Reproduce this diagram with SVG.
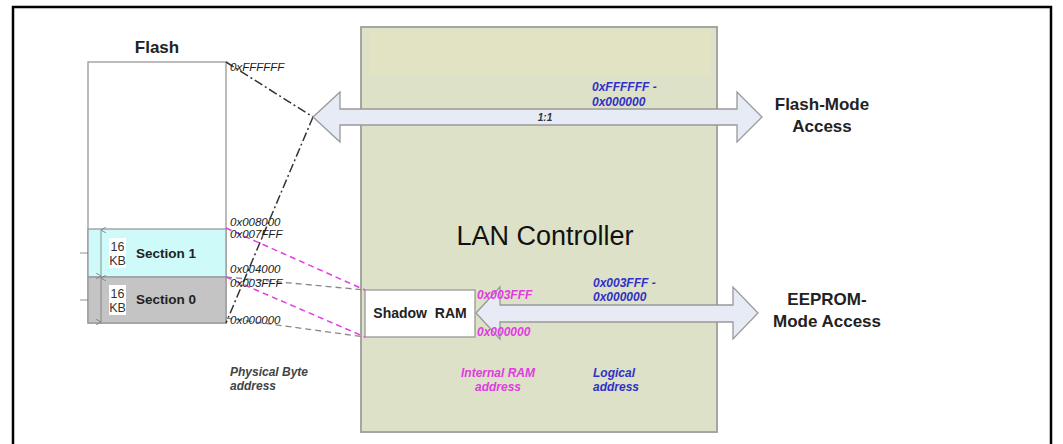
<svg xmlns="http://www.w3.org/2000/svg" width="1063" height="444" viewBox="0 0 1063 444">
<defs>
<style>
.sans{font-family:"Liberation Sans",Arial,sans-serif}
.addr{font-family:"Liberation Sans",Arial,sans-serif;font-size:11.5px;font-style:italic;fill:#1a1a1a}
.blue{font-family:"Liberation Sans",Arial,sans-serif;font-size:12px;font-style:italic;font-weight:bold;fill:#3030c8}
.pink{font-family:"Liberation Sans",Arial,sans-serif;font-size:12px;font-style:italic;font-weight:bold;fill:#e03ce0}
.gray{font-family:"Liberation Sans",Arial,sans-serif;font-size:12px;font-style:italic;font-weight:bold;fill:#444}
.big{font-family:"Liberation Sans",Arial,sans-serif;font-size:17px;font-weight:bold;fill:#222}
.sec{font-family:"Liberation Sans",Arial,sans-serif;font-size:13.5px;font-weight:bold;fill:#222}
.kb{font-family:"Liberation Sans",Arial,sans-serif;font-size:12.5px;fill:#333}
.blk{fill:none;stroke:#333;stroke-width:1.5;stroke-dasharray:9 3 2 3}
.pdash{fill:none;stroke:#e040e0;stroke-width:1.5;stroke-dasharray:6 4}
.gdash{fill:none;stroke:#888;stroke-width:1.3;stroke-dasharray:6 4}
.barrow{fill:#e6ebf5;stroke:#999;stroke-width:1.3}
</style>
<marker id="dimA" viewBox="0 0 6 6" refX="3" refY="0" markerWidth="6" markerHeight="6" orient="auto-start-reverse" markerUnits="userSpaceOnUse">
<path d="M0,5 L3,0 L6,5" fill="none" stroke="#777" stroke-width="0.8"/>
</marker>
</defs>
<rect x="0" y="0" width="1063" height="444" fill="#fff"/>
<rect id="frame" x="13" y="7" width="1038" height="445" fill="none" stroke="#000" stroke-width="2.5"/>

<g id="flash">
<text class="big" x="157" y="53" text-anchor="middle">Flash</text>
<rect x="88" y="62" width="138" height="261" fill="#fff" stroke="#999" stroke-width="1.3"/>
</g>
<g id="section1">
<rect x="88" y="229" width="138" height="48" fill="#cffafa" stroke="#999" stroke-width="1.3"/>
<rect x="109" y="238" width="17" height="30" fill="#fff"/>
<text class="kb" x="117.5" y="251" text-anchor="middle">16</text>
<text class="kb" x="117.5" y="265" text-anchor="middle">KB</text>
<text class="sec" x="136" y="258">Section 1</text>
</g>
<g id="section0">
<rect x="88" y="277" width="138" height="46" fill="#c4c4c4" stroke="#999" stroke-width="1.3"/>
<rect x="109" y="285" width="17" height="30" fill="#fff"/>
<text class="kb" x="117.5" y="298" text-anchor="middle">16</text>
<text class="kb" x="117.5" y="312" text-anchor="middle">KB</text>
<text class="sec" x="136" y="304">Section 0</text>
</g>
<g id="dimension" stroke="#777" stroke-width="0.8">
<line x1="101" y1="230" x2="101" y2="276" marker-start="url(#dimA)" marker-end="url(#dimA)"/>
<line x1="101" y1="278" x2="101" y2="322" marker-start="url(#dimA)" marker-end="url(#dimA)"/>
<line x1="80" y1="253" x2="88" y2="253"/>
<line x1="80" y1="300" x2="88" y2="300"/>
</g>

<g id="lan-controller">
<rect x="361" y="27" width="356" height="405" fill="#dde1c7" stroke="#a6a6a0" stroke-width="2"/>
<rect x="370" y="29" width="340" height="46" fill="#e2e3c2"/>
<text class="sans" x="545" y="245" text-anchor="middle" font-size="27" fill="#111">LAN Controller</text>
</g>

<g id="shadow-ram">
<rect x="365" y="290" width="110" height="47" fill="#fff" stroke="#999" stroke-width="1.3"/>
<text class="sans" x="420" y="318" text-anchor="middle" font-size="14" font-weight="bold" fill="#222" xml:space="preserve">Shadow  RAM</text>
</g>

<g id="connectors">
<line class="blk" x1="226" y1="62" x2="313" y2="117"/>
<line class="blk" x1="313" y1="117" x2="226" y2="323"/>
<line class="pdash" x1="226" y1="228" x2="365" y2="290"/>
<line class="pdash" x1="226" y1="277" x2="365" y2="337"/>
<line class="gdash" x1="226" y1="277" x2="365" y2="290"/>
<line class="gdash" x1="226" y1="318" x2="365" y2="337"/>
<polygon id="flash-mode-arrow" class="barrow" points="313,117 340,92 340,109 737,109 737,92 762,117 737,142 737,125 340,125 340,142"/>
<polygon id="eeprom-arrow" class="barrow" points="476,313 500,287 500,305 733,305 733,287 758,313 733,339 733,322 500,322 500,339"/>
</g>

<g id="labels">
<text class="addr" x="230" y="71">0xFFFFFF</text>
<text class="addr" x="230" y="226">0x008000</text>
<text class="addr" x="230" y="238">0x007FFF</text>
<text class="addr" x="230" y="273">0x004000</text>
<text class="addr" x="230" y="287">0x003FFF</text>
<text class="addr" x="230" y="324">0x000000</text>
<text class="gray" x="230" y="376">Physical Byte</text>
<text class="gray" x="230" y="390">address</text>
<text class="sans" x="545" y="121" text-anchor="middle" font-size="10" font-style="italic" font-weight="bold" fill="#333">1:1</text>
<text class="blue" x="592" y="91">0xFFFFFF -</text>
<text class="blue" x="592" y="106">0x000000</text>
<text class="blue" x="593" y="287">0x003FFF -</text>
<text class="blue" x="593" y="301">0x000000</text>
<text class="pink" x="477" y="299">0x003FFF</text>
<text class="pink" x="477" y="336">0x000000</text>
<text class="pink" x="498" y="377" text-anchor="middle">Internal RAM</text>
<text class="pink" x="498" y="391" text-anchor="middle">address</text>
<text class="blue" x="593" y="377">Logical</text>
<text class="blue" x="593" y="391">address</text>
<text class="big" x="822" y="110" text-anchor="middle">Flash-Mode</text>
<text class="big" x="822" y="132" text-anchor="middle">Access</text>
<text class="big" x="827" y="305" text-anchor="middle">EEPROM-</text>
<text class="big" x="827" y="327" text-anchor="middle">Mode Access</text>
</g>
</svg>
